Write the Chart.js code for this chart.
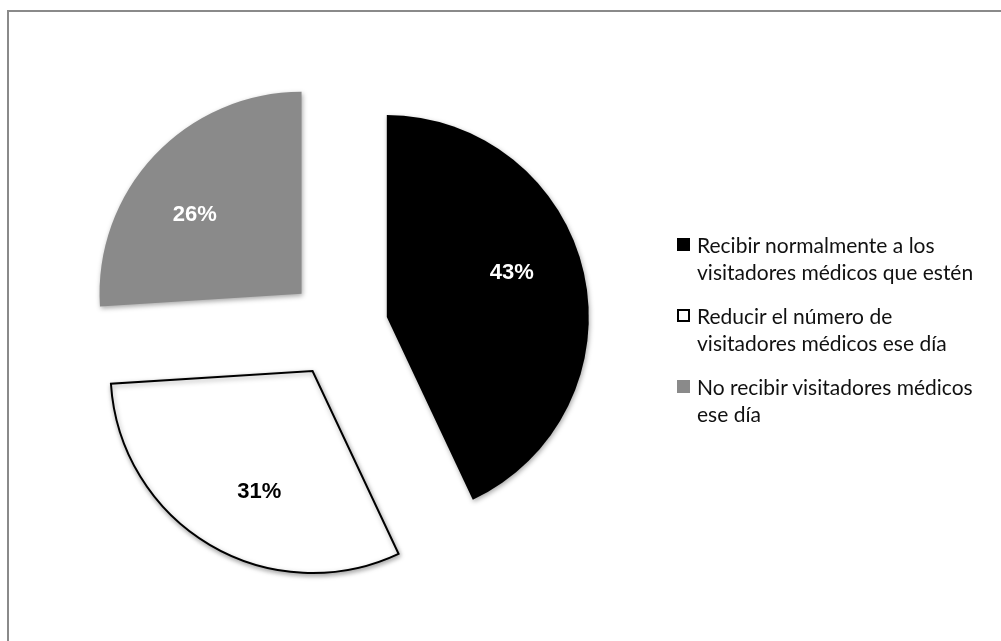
<!DOCTYPE html>
<html>
<head>
<meta charset="utf-8">
<script src="https://cdn.jsdelivr.net/npm/chart.js@4.4.1/dist/chart.umd.min.js"></script>
<style>
  html, body { margin: 0; padding: 0; background: #fff; overflow: hidden; }
  #wrap { position: relative; width: 1001px; height: 641px; overflow: hidden; }
  #frame {
    position: absolute; left: 7px; top: 10px; width: 1100px; height: 700px;
    border: 2px solid #8a8a8a; box-sizing: border-box;
  }
  #myChart { position: absolute; left: 0; top: 0; }
  #legend {
    position: absolute; left: 676px; top: 231px;
    font-family: Lato, "Open Sans", sans-serif; font-size: 21px; color: #111;
    line-height: 27px; white-space: nowrap;
  }
  #legend .item { position: relative; padding-left: 21px; margin-bottom: 17px; }
  #legend .box {
    position: absolute; left: 1px; top: 7px; width: 13px; height: 13px; box-sizing: border-box;
  }
</style>
</head>
<body>
<div id="wrap">
  <div id="frame"></div>
  <canvas id="myChart" width="1001" height="641"></canvas>
  <div id="legend"></div>
</div>
<script>
// answers, one entry per slice (legend text split into its two lines)
const categories = [
  ["Recibir normalmente a los", "visitadores médicos que estén"],
  ["Reducir el número de", "visitadores médicos ese día"],
  ["No recibir visitadores médicos", "ese día"]
];
const shares = [43, 31, 26];

const sliceColors = ["#000000", "#ffffff", "#8a8a8a"];
const sliceBorders = [0, 2, 0];
const textColors = ["#ffffff", "#000000", "#ffffff"];

const RADIUS = 202;
const EXPLODE = 50;

// push every slice out along its middle angle and give it a soft shadow
const explodePlugin = {
  id: "explode",
  beforeDatasetDraw(chart, args) {
    const ctx = chart.ctx;
    args.meta.data.forEach((arc) => {
      const mid = (arc.startAngle + arc.endAngle) / 2;
      ctx.save();
      ctx.translate(Math.cos(mid) * EXPLODE, Math.sin(mid) * EXPLODE);
      ctx.shadowColor = "rgba(0,0,0,0.35)";
      ctx.shadowBlur = 5;
      ctx.shadowOffsetX = 1;
      ctx.shadowOffsetY = 2;
      arc.draw(ctx);
      ctx.restore();
    });
    return false;
  },
  afterDatasetsDraw(chart) {
    const ctx = chart.ctx;
    const meta = chart.getDatasetMeta(0);
    ctx.save();
    ctx.font = "bold 22px 'Liberation Sans', Arial, sans-serif";
    ctx.textAlign = "center";
    ctx.textBaseline = "middle";
    meta.data.forEach((arc, i) => {
      const mid = (arc.startAngle + arc.endAngle) / 2 - 5 * Math.PI / 180;
      const r = EXPLODE + arc.outerRadius * 0.655;
      ctx.fillStyle = textColors[i];
      ctx.fillText(shares[i] + "%", arc.x + Math.cos(mid) * r, arc.y + Math.sin(mid) * r);
    });
    ctx.restore();
  }
};

new Chart(document.getElementById("myChart"), {
  type: "pie",
  data: {
    labels: categories.map((c) => c.join(" ")),
    datasets: [
      {
        data: shares,
        backgroundColor: sliceColors,
        borderColor: "#000000",
        borderWidth: sliceBorders,
        borderJoinStyle: "miter",
        radius: RADIUS
      }
    ]
  },
  options: {
    responsive: false,
    animation: false,
    layout: { padding: { left: 0, right: 325, top: 15, bottom: 0 } },
    plugins: { legend: { display: false }, tooltip: { enabled: false } }
  },
  plugins: [explodePlugin]
});

// legend on the right
const legend = document.getElementById("legend");
categories.forEach((lines, i) => {
  const item = document.createElement("div");
  item.className = "item";
  const box = document.createElement("span");
  box.className = "box";
  box.style.background = sliceColors[i];
  if (sliceBorders[i]) box.style.border = "2px solid #000";
  item.appendChild(box);
  item.appendChild(document.createTextNode(lines[0]));
  item.appendChild(document.createElement("br"));
  item.appendChild(document.createTextNode(lines[1]));
  legend.appendChild(item);
});
</script>
</body>
</html>
